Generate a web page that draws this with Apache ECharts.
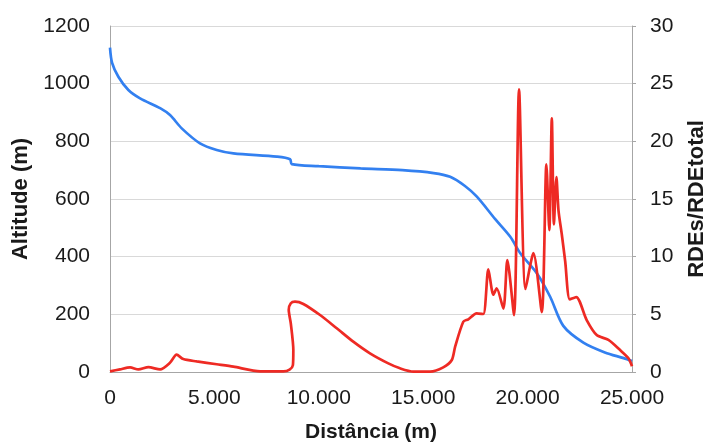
<!DOCTYPE html>
<html>
<head>
<meta charset="utf-8">
<script src="https://cdn.jsdelivr.net/npm/echarts@6/dist/echarts.min.js"></script>
<style>html,body{margin:0;padding:0;background:#fff}#c{width:706px;height:444px}</style>
</head>
<body>
<div id="c"></div>
<script>
var xTicks = [0, 5000, 10000, 15000, 20000, 25000];
var altitude = [
  [0,1125],[100,1072],[400,1024],[880,978],[1440,949],[2400,915],[2875,891],[3435,845],
  [4310,793],[5110,770],[5910,758],[7990,747],[8625,738],[8705,721],[10000,714],[12000,706],
  [14000,700],[15500,690],[16290,677],[17000,645],[17570,608],[18450,530],[19170,469],
  [19650,412],[20450,342],[21080,261],[21710,160],[22670,102],[23700,68],[24600,48],[25000,38]
];
var rde = [
  [0,0.05],[480,0.23],[960,0.4],[1360,0.22],[1840,0.42],[2400,0.22],[2870,0.8],[3190,1.5],
  [3510,1.12],[4150,0.92],[5110,0.67],[5910,0.46],[7190,0.05],[8300,0.05],[8600,0.2],
  [8760,0.6],[8780,1.9],[8660,4.2],[8560,5.4],[8660,5.96],[8860,6.1],[9260,5.9],[10060,4.94],
  [10860,3.79],[11650,2.63],[12450,1.62],[13330,0.75],[13890,0.32],[14530,0.03],[15330,0.03],
  [15960,0.4],[16370,1.04],[16530,2.2],[16920,4.36],[17160,4.57],[17560,5.09],[17880,5.03],
  [18120,8.9],[18360,6.7],[18520,7.26],[18840,5.5],[19030,9.7],[19350,4.94],[19590,24.5],
  [19900,7.2],[20280,10.3],[20680,5.2],[20900,18.0],[21040,12.3],[21160,22.0],[21260,12.8],
  [21380,16.9],[21480,14.0],[21640,11.9],[21800,9.6],[22020,6.3],[22330,6.5],[22830,4.5],
  [23310,3.2],[23870,2.78],[24430,1.9],[24830,1.19],[25000,0.5]
];

var chart = echarts.init(document.getElementById('c'), null, {renderer: 'canvas'});
var lblFont = 'Liberation Sans, Arial, sans-serif';
chart.setOption({
  animation: false,
  backgroundColor: '#fff',
  grid: {left: 110, right: 74, top: 26, bottom: 72, containLabel: false, outerBoundsMode: 'none'},
  xAxis: {
    type: 'value', min: xTicks[0], max: xTicks[xTicks.length-1], interval: 5000,
    name: 'Distância (m)', nameLocation: 'middle', nameGap: 50,
    nameTextStyle: {fontFamily: lblFont, fontSize: 21, fontWeight: 'bold', color: '#1a1a1a'},
    axisLine: {show: true, lineStyle: {color: '#a6a6a6', width: 1}},
    axisTick: {show: false},
    splitLine: {show: false},
    axisLabel: {
      fontFamily: lblFont, fontSize: 21, color: '#1a1a1a', margin: 16,
      formatter: function (v) { return String(v).replace(/\B(?=(\d{3})+(?!\d))/g, '.'); }
    }
  },
  yAxis: [{
    type: 'value', min: 0, max: 1200, interval: 200,
    name: 'Altitude (m)', nameLocation: 'middle', nameGap: 67, nameRotate: 90,
    nameTextStyle: {fontFamily: lblFont, fontSize: 22, fontWeight: 'bold', color: '#1a1a1a'},
    axisLine: {show: true, lineStyle: {color: '#a6a6a6', width: 1}},
    axisTick: {show: false},
    splitLine: {show: true, lineStyle: {color: '#d9d9d9', width: 1}},
    axisLabel: {fontFamily: lblFont, fontSize: 21, color: '#1a1a1a', margin: 20,
      formatter: function (v) { return String(v); }}
  }, {
    type: 'value', min: 0, max: 30, interval: 5, position: 'right',
    name: 'RDEs/RDEtotal', nameLocation: 'middle', nameGap: 54, nameRotate: 90,
    nameTextStyle: {fontFamily: lblFont, fontSize: 22, fontWeight: 'bold', color: '#1a1a1a'},
    axisLine: {show: true, lineStyle: {color: '#a6a6a6', width: 1}},
    axisTick: {show: true, length: 4, lineStyle: {color: '#a6a6a6'}},
    splitLine: {show: false},
    axisLabel: {fontFamily: lblFont, fontSize: 21, color: '#1a1a1a', margin: 18,
      formatter: function (v) { return String(v); }}
  }],
  series: [{
    type: 'line', name: 'Altitude', yAxisIndex: 0, data: altitude,
    showSymbol: false, smooth: 0.3,
    lineStyle: {color: '#3380f0', width: 2.7}, itemStyle: {color: '#3380f0'}
  }, {
    type: 'line', name: 'RDE', yAxisIndex: 1, data: rde,
    showSymbol: false, smooth: 0.25,
    lineStyle: {color: '#ee2a24', width: 2.7}, itemStyle: {color: '#ee2a24'}
  }]
});
</script>
</body>
</html>
